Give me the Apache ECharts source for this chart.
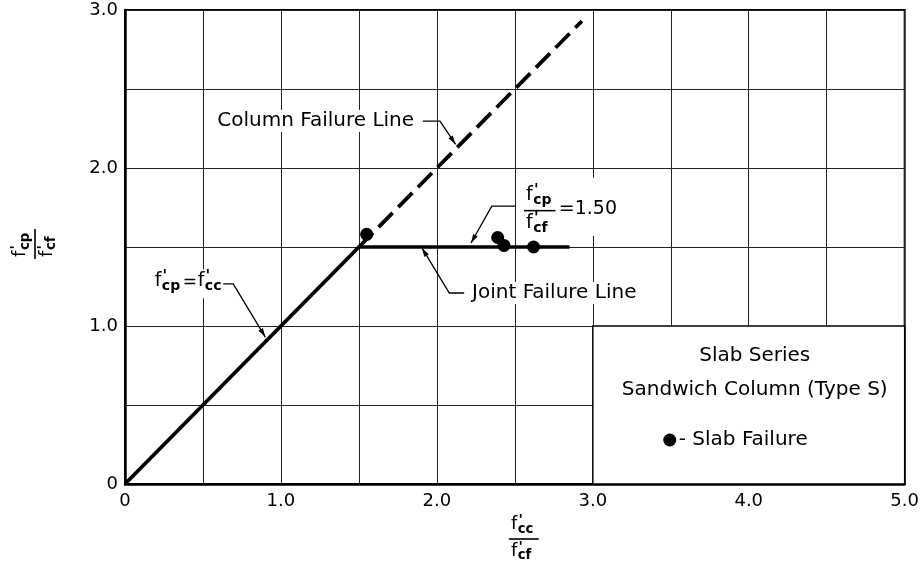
<!DOCTYPE html>
<html><head><meta charset="utf-8">
<script src="https://cdn.jsdelivr.net/npm/echarts@6/dist/echarts.min.js"></script>
<style>html,body{margin:0;padding:0;background:#fff}#c{width:922px;height:562px}</style>
</head><body><div id="c"></div>
<script>
// ---- data ----
const xRange = [0, 5.0];
const yRange = [0, 3.0];
const gridStep = 0.5;
const equalStrengthLine = [[0, 0], [1.5, 1.5]];          // f'cp = f'cc (solid)
const columnFailureLine = [[1.5, 1.5], [2.93, 2.93]];    // dashed continuation
const jointFailureLine = [[1.5, 1.5], [2.85, 1.5]];      // f'cp/f'cf = 1.50
const slabFailurePoints = [[1.55, 1.58], [2.39, 1.56], [2.43, 1.51], [2.62, 1.50]];
const legendBox = [[3.0, 0], [5.0, 1.0]];
const legendLines = ['Slab Series', 'Sandwich Column (Type S)', '- Slab Failure'];

// annotation anchors (data coordinates)
const colLabelAt = [1.223, 2.297];
const colLeader = [[1.91, 2.297], [2.02, 2.297], [2.12, 2.15]];
const eqLabelAt = [0.19, 1.27];
const eqLeader = [[0.63, 1.266], [0.694, 1.266], [0.90, 0.93]];
const jointLabelAt = [2.2, 1.209];
const jointLeader = [[2.175, 1.209], [2.08, 1.209], [1.904, 1.494]];
const ratioLabelAt = [2.66, 1.73];
const ratioLeader = [[2.503, 1.759], [2.352, 1.759], [2.219, 1.525]];

const FONT = '"DejaVu Sans", Verdana, sans-serif';
const chart = echarts.init(document.getElementById('c'));

function tickFmt(v) {
  if (Math.abs(v - Math.round(v)) > 1e-6) return '';
  return v === 0 ? '0' : v.toFixed(1);
}

chart.setOption({
  animation: false,
  backgroundColor: '#fff',
  grid: { left: 125, right: 4, top: 10, bottom: 78, show: true, borderColor: '#000', borderWidth: 2, containLabel: false },
  xAxis: {
    type: 'value', min: xRange[0], max: xRange[1], interval: gridStep,
    axisLine: { show: true, lineStyle: { color: '#000', width: 2.5 } },
    axisTick: { show: false },
    axisLabel: { formatter: tickFmt, color: '#000', fontSize: 18, fontFamily: FONT, margin: 8, showMaxLabel: true, showMinLabel: true },
    splitLine: { show: true, lineStyle: { color: '#222', width: 1 } }
  },
  yAxis: {
    type: 'value', min: yRange[0], max: yRange[1], interval: gridStep,
    axisLine: { show: true, lineStyle: { color: '#000', width: 2.5 } },
    axisTick: { show: false },
    axisLabel: { formatter: tickFmt, color: '#000', fontSize: 18, fontFamily: FONT, margin: 7 },
    splitLine: { show: true, lineStyle: { color: '#222', width: 1 } }
  },
  series: [
    { type: 'line', data: equalStrengthLine, symbol: 'none', lineStyle: { color: '#000', width: 3.8 }, z: 3 },
    { type: 'line', data: columnFailureLine, symbol: 'none', lineStyle: { color: '#000', width: 3.8, type: [20, 8] }, z: 3 },
    { type: 'line', data: jointFailureLine, symbol: 'none', lineStyle: { color: '#000', width: 3.5 }, z: 3,
      markArea: { silent: true, itemStyle: { color: '#fff', borderColor: '#000', borderWidth: 1.5 },
        data: [[{ coord: legendBox[0] }, { coord: legendBox[1] }]] } },
    { type: 'scatter', data: slabFailurePoints, symbol: 'circle', symbolSize: 13, itemStyle: { color: '#000', opacity: 1 }, z: 5 }
  ]
});

function P(d) { return chart.convertToPixel({ gridIndex: 0 }, d); }
function txt(x, y, text, size, opts) {
  opts = opts || {};
  return { type: 'text', x: x, y: y, z: 100, style: Object.assign({
    text: text, font: (opts.weight || 'normal') + ' ' + size + 'px ' + FONT,
    fill: '#000', align: opts.align || 'left', textAlign: opts.align || 'left',
    verticalAlign: 'middle', textVerticalAlign: 'middle'
  }, opts.bg ? { backgroundColor: '#fff', padding: [1, 4] } : {}) };
}
// f' with subscript, left edge at x, middle at y
function fsym(x, y, sub, s) {
  return [
    txt(x, y, 'f', s),
    txt(x + 0.42 * s, y - 0.22 * s, "'", s * 0.8, { weight: 'bold' }),
    txt(x + 0.38 * s, y + 0.28 * s, sub, s * 0.74, { weight: 'bold' })
  ];
}
function fracEls(cx, cy, nSub, dSub, s) {
  const w = 1.55 * s;
  let els = [];
  els = els.concat(fsym(cx - w / 2 + 1, cy - 0.82 * s, nSub, s));
  els.push({ type: 'line', z: 100, shape: { x1: cx - w / 2 - 1, y1: cy, x2: cx + w / 2 + 1, y2: cy }, style: { stroke: '#000', lineWidth: 1.6 } });
  els = els.concat(fsym(cx - w / 2 + 1, cy + 0.66 * s, dSub, s));
  return els;
}
function leader(pts) {
  const px = pts.map(P);
  const n = px.length, a = px[n - 2], b = px[n - 1];
  const dx = b[0] - a[0], dy = b[1] - a[1], L = Math.hypot(dx, dy);
  const ux = dx / L, uy = dy / L, h = 9, hw = 2.6;
  const base = [b[0] - ux * h, b[1] - uy * h];
  return [
    { type: 'polyline', z: 100, shape: { points: px }, style: { stroke: '#000', fill: null, lineWidth: 1.3 } },
    { type: 'polygon', z: 100, shape: { points: [b, [base[0] - uy * hw, base[1] + ux * hw], [base[0] + uy * hw, base[1] - ux * hw]] }, style: { fill: '#000' } }
  ];
}

let g = [];
// Column Failure Line
let p = P(colLabelAt);
g.push(txt(p[0], p[1], 'Column Failure Line', 20, { align: 'center', bg: true }));
g = g.concat(leader(colLeader));
// f'cp = f'cc
p = P(eqLabelAt);
g.push({ type: 'rect', z: 99, shape: { x: p[0] - 4, y: p[1] - 14, width: 70, height: 29 }, style: { fill: '#fff' } });
g = g.concat(fsym(p[0], p[1] - 2, 'cp', 19));
g.push(txt(p[0] + 28, p[1] - 1, '=', 17));
g = g.concat(fsym(p[0] + 43, p[1] - 2, 'cc', 19));
g = g.concat(leader(eqLeader));
// Joint Failure Line
p = P(jointLabelAt);
g.push(txt(p[0], p[1], 'Joint Failure Line', 20, { bg: true }));
g = g.concat(leader(jointLeader));
// ratio 1.50
p = P(ratioLabelAt);
g.push({ type: 'rect', z: 99, shape: { x: p[0] - 20, y: p[1] - 33, width: 95, height: 58 }, style: { fill: '#fff' } });
g = g.concat(fracEls(p[0], p[1], 'cp', 'cf', 19));
g.push(txt(p[0] + 19, p[1] - 2, '=1.50', 19));
g = g.concat(leader(ratioLeader));
// legend box text
const bx0 = P(legendBox[0]), bx1 = P(legendBox[1]);
const bcx = (bx0[0] + bx1[0]) / 2 + 6;
g.push(txt(bcx, bx1[1] + 30, legendLines[0], 20, { align: 'center' }));
g.push(txt(bcx, bx1[1] + 64, legendLines[1], 20, { align: 'center' }));
g.push({ type: 'circle', z: 100, shape: { cx: bcx - 85, cy: bx1[1] + 114, r: 6.5 }, style: { fill: '#000' } });
g.push(txt(bcx - 76, bx1[1] + 114, legendLines[2], 20));
// axis titles
const gx0 = P([0, 0]), gx1 = P([5, 3]);
g = g.concat(fracEls((gx0[0] + gx1[0]) / 2 + 9, 539, 'cc', 'cf', 18));
g.push({ type: 'group', x: 35, y: 244, rotation: Math.PI / 2, children: fracEls(0, 0, 'cp', 'cf', 18) });

chart.setOption({ graphic: g });
</script>
</body></html>
